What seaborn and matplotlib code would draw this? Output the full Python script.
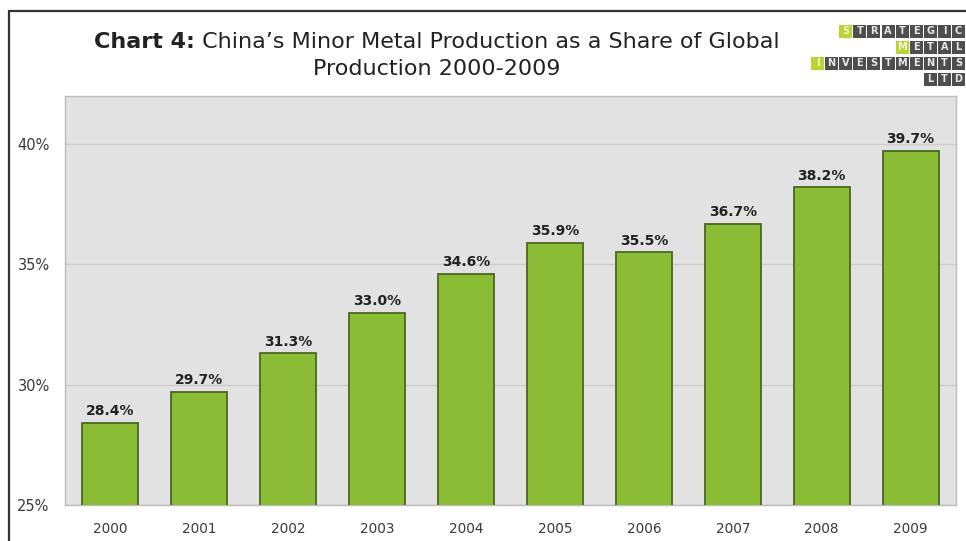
import matplotlib
matplotlib.use("Agg")
import matplotlib.pyplot as plt
from matplotlib.patches import Rectangle
from matplotlib.lines import Line2D
import seaborn as sns
import pandas as pd

# Data
years = ["2000", "2001", "2002", "2003", "2004", "2005", "2006", "2007", "2008", "2009"]
share = [28.4, 29.7, 31.3, 33.0, 34.6, 35.9, 35.5, 36.7, 38.2, 39.7]
y_ticks = [25, 30, 35, 40]
y_tick_labels = ["25%", "30%", "35%", "40%"]

title_bold = "Chart 4:"
title_rest = " China\u2019s Minor Metal Production as a Share of Global"
title_line2 = "Production 2000-2009"

logo_rows = [
    ("STRATEGIC", 2, 0),
    ("METAL", 6, 0),
    ("INVESTMENTS", 0, 0),
    ("LTD", 8, None),
]

sns.set_theme(style="white")
plt.rcParams["font.family"] = ["DejaVu Sans"]

W, H = 966, 541
fig = plt.figure(figsize=(W / 100, H / 100), dpi=100)
fig.patch.set_facecolor("white")


def fx(px):
    return px / W


def fy(py):
    return 1 - py / H


# Plot area
left, right, top, bottom = 65, 956, 96, 505
ax = fig.add_axes([fx(left), fy(bottom), fx(right - left), (bottom - top) / H])

df = pd.DataFrame({"year": years, "share": share})
sns.barplot(data=df, x="year", y="share", ax=ax, color="#8abd35",
            saturation=1, width=0.63, edgecolor="#4b6620", linewidth=1.3,
            zorder=3)

ax.set_facecolor("#e2e2e2")
ax.set_ylim(25, 42)
ax.set_xlim(-0.51, len(years) - 0.49)
ax.set_yticks(y_ticks)
ax.set_yticklabels(y_tick_labels)
ax.set_xlabel("")
ax.set_ylabel("")
ax.yaxis.grid(True, color="#cdcdcd", linewidth=1.0, zorder=0)
ax.set_axisbelow(True)
for sp in ax.spines.values():
    sp.set_color("#bcbcbc")
    sp.set_linewidth(1.0)

ax.tick_params(axis="y", length=5, color="#d5d5d5", pad=6,
               labelsize=10.5, labelcolor="#3a3a3a")
ax.tick_params(axis="x", length=0, pad=12, labelsize=9.8, labelcolor="#3a3a3a")
ax.set_xticks([i + 0.5 for i in range(len(years) - 1)], minor=True)
ax.tick_params(axis="x", which="minor", length=5, color="#d5d5d5")

# Value labels above bars
for i, v in enumerate(share):
    ax.annotate(f"{v:.1f}%", (i, v), xytext=(0, 3.5), textcoords="offset points",
                ha="center", va="bottom", fontsize=10, fontweight="bold",
                color="#222222")

# Outer frame lines (left and top)
fig.add_artist(Line2D([fx(9), fx(9)], [fy(11), 0], color="#333333",
                      linewidth=1.6, transform=fig.transFigure))
fig.add_artist(Line2D([fx(9), 1], [fy(11), fy(11)], color="#333333",
                      linewidth=1.6, transform=fig.transFigure))

# Title, first line with bold lead-in
fig.canvas.draw()
renderer = fig.canvas.get_renderer()
tsize = 16
t1 = fig.text(0, fy(42), title_bold, fontsize=tsize, fontweight="bold",
              color="#222222", va="center", ha="left")
t2 = fig.text(0, fy(42), title_rest, fontsize=tsize, color="#222222",
              va="center", ha="left")
w1 = t1.get_window_extent(renderer).width
w2 = t2.get_window_extent(renderer).width
x0 = 437 - (w1 + w2) / 2
t1.set_x(fx(x0))
t2.set_x(fx(x0 + w1))
fig.text(fx(437), fy(69), title_line2, fontsize=tsize, color="#222222",
         va="center", ha="center")

# Logo block
col0, pitch, cell = 811, 14.1, 13.0
row_tops = [25, 41, 57, 73]
for (word, start, green_idx), rt in zip(logo_rows, row_tops):
    for j, ch in enumerate(word):
        cx = col0 + (start + j) * pitch
        is_green = green_idx is not None and j == green_idx
        face = "#b9d532" if is_green else "#4e4e4e"
        fig.add_artist(Rectangle((fx(cx), fy(rt + cell)), cell / W, cell / H,
                                 facecolor=face, edgecolor="none",
                                 transform=fig.transFigure))
        fig.text(fx(cx + cell / 2), fy(rt + cell / 2), ch, fontsize=7,
                 fontweight="bold", color="#f2f2e0" if is_green else "#e6e6e6",
                 ha="center", va="center")

fig.savefig("out.png", dpi=100)
